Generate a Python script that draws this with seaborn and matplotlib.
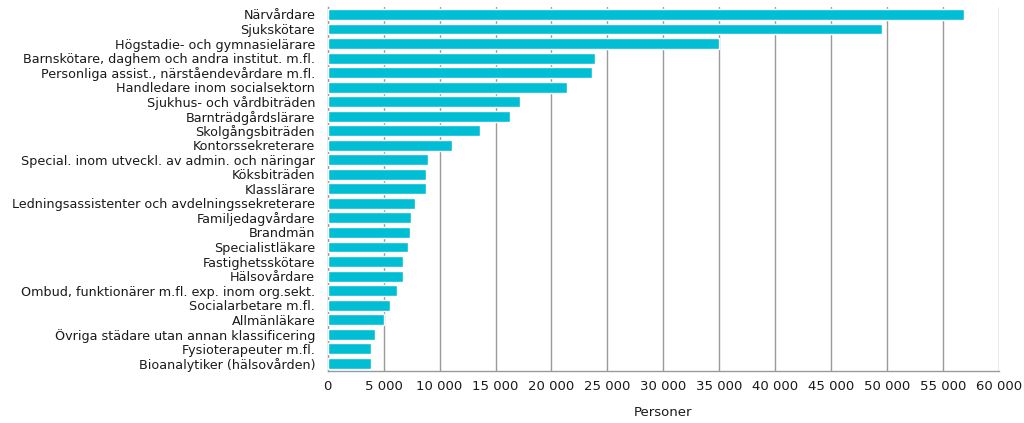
import pandas as pd
import matplotlib
matplotlib.use("Agg")
import matplotlib.pyplot as plt
import matplotlib.ticker as mticker
import seaborn as sns

occupations = [
    "Närvårdare",
    "Sjukskötare",
    "Högstadie- och gymnasielärare",
    "Barnskötare, daghem och andra institut. m.fl.",
    "Personliga assist., närståendevårdare m.fl.",
    "Handledare inom socialsektorn",
    "Sjukhus- och vårdbiträden",
    "Barnträdgårdslärare",
    "Skolgångsbiträden",
    "Kontorssekreterare",
    "Special. inom utveckl. av admin. och näringar",
    "Köksbiträden",
    "Klasslärare",
    "Ledningsassistenter och avdelningssekreterare",
    "Familjedagvårdare",
    "Brandmän",
    "Specialistläkare",
    "Fastighetsskötare",
    "Hälsovårdare",
    "Ombud, funktionärer m.fl. exp. inom org.sekt.",
    "Socialarbetare m.fl.",
    "Allmänläkare",
    "Övriga städare utan annan klassificering",
    "Fysioterapeuter m.fl.",
    "Bioanalytiker (hälsovården)",
]
persons = [
    56900, 49500, 35000, 23900, 23600, 21400, 17150, 16300, 13600, 11100,
    9000, 8750, 8800, 7800, 7450, 7400, 7150, 6700, 6700, 6200,
    5550, 5000, 4200, 3900, 3900,
]

df = pd.DataFrame({"yrke": occupations, "personer": persons})

sns.set_style("white")
plt.rcParams["font.family"] = ["DejaVu Sans"]

fig, ax = plt.subplots(figsize=(10.24, 4.23), dpi=100)
fig.subplots_adjust(left=0.32, right=0.9756, top=0.983, bottom=0.124)

sns.barplot(data=df, x="personer", y="yrke", orient="h", color="#00BFD5",
            saturation=1, width=0.75, ax=ax, zorder=3)

ax.set_xlim(0, 60000)
ax.set_ylim(len(occupations) - 0.5, -0.5)
ax.xaxis.set_major_locator(mticker.MultipleLocator(5000))
ax.xaxis.set_major_formatter(
    mticker.FuncFormatter(lambda v, p: f"{int(v):,}".replace(",", " ")))
ax.grid(axis="x", color="#999999", linewidth=1, zorder=0)
ax.grid(axis="y", visible=False)

ax.yaxis.set_minor_locator(mticker.FixedLocator(
    [i - 0.5 for i in range(len(occupations) + 1)]))
ax.tick_params(axis="y", which="major", length=0, pad=9, labelsize=9.2,
               labelcolor="#1a1a1a")
ax.tick_params(axis="y", which="minor", length=4, color="#8c7a6a", width=0.8)
ax.tick_params(axis="x", length=0, pad=7, labelsize=9.5, labelcolor="#1a1a1a")

for side in ["top", "right"]:
    ax.spines[side].set_visible(False)
for side in ["left", "bottom"]:
    ax.spines[side].set_color("#999999")
    ax.spines[side].set_linewidth(1)

ax.set_ylabel("")
ax.set_xlabel("Personer", fontsize=9.5, color="#1a1a1a", labelpad=9)

fig.savefig("out.png", dpi=100)
